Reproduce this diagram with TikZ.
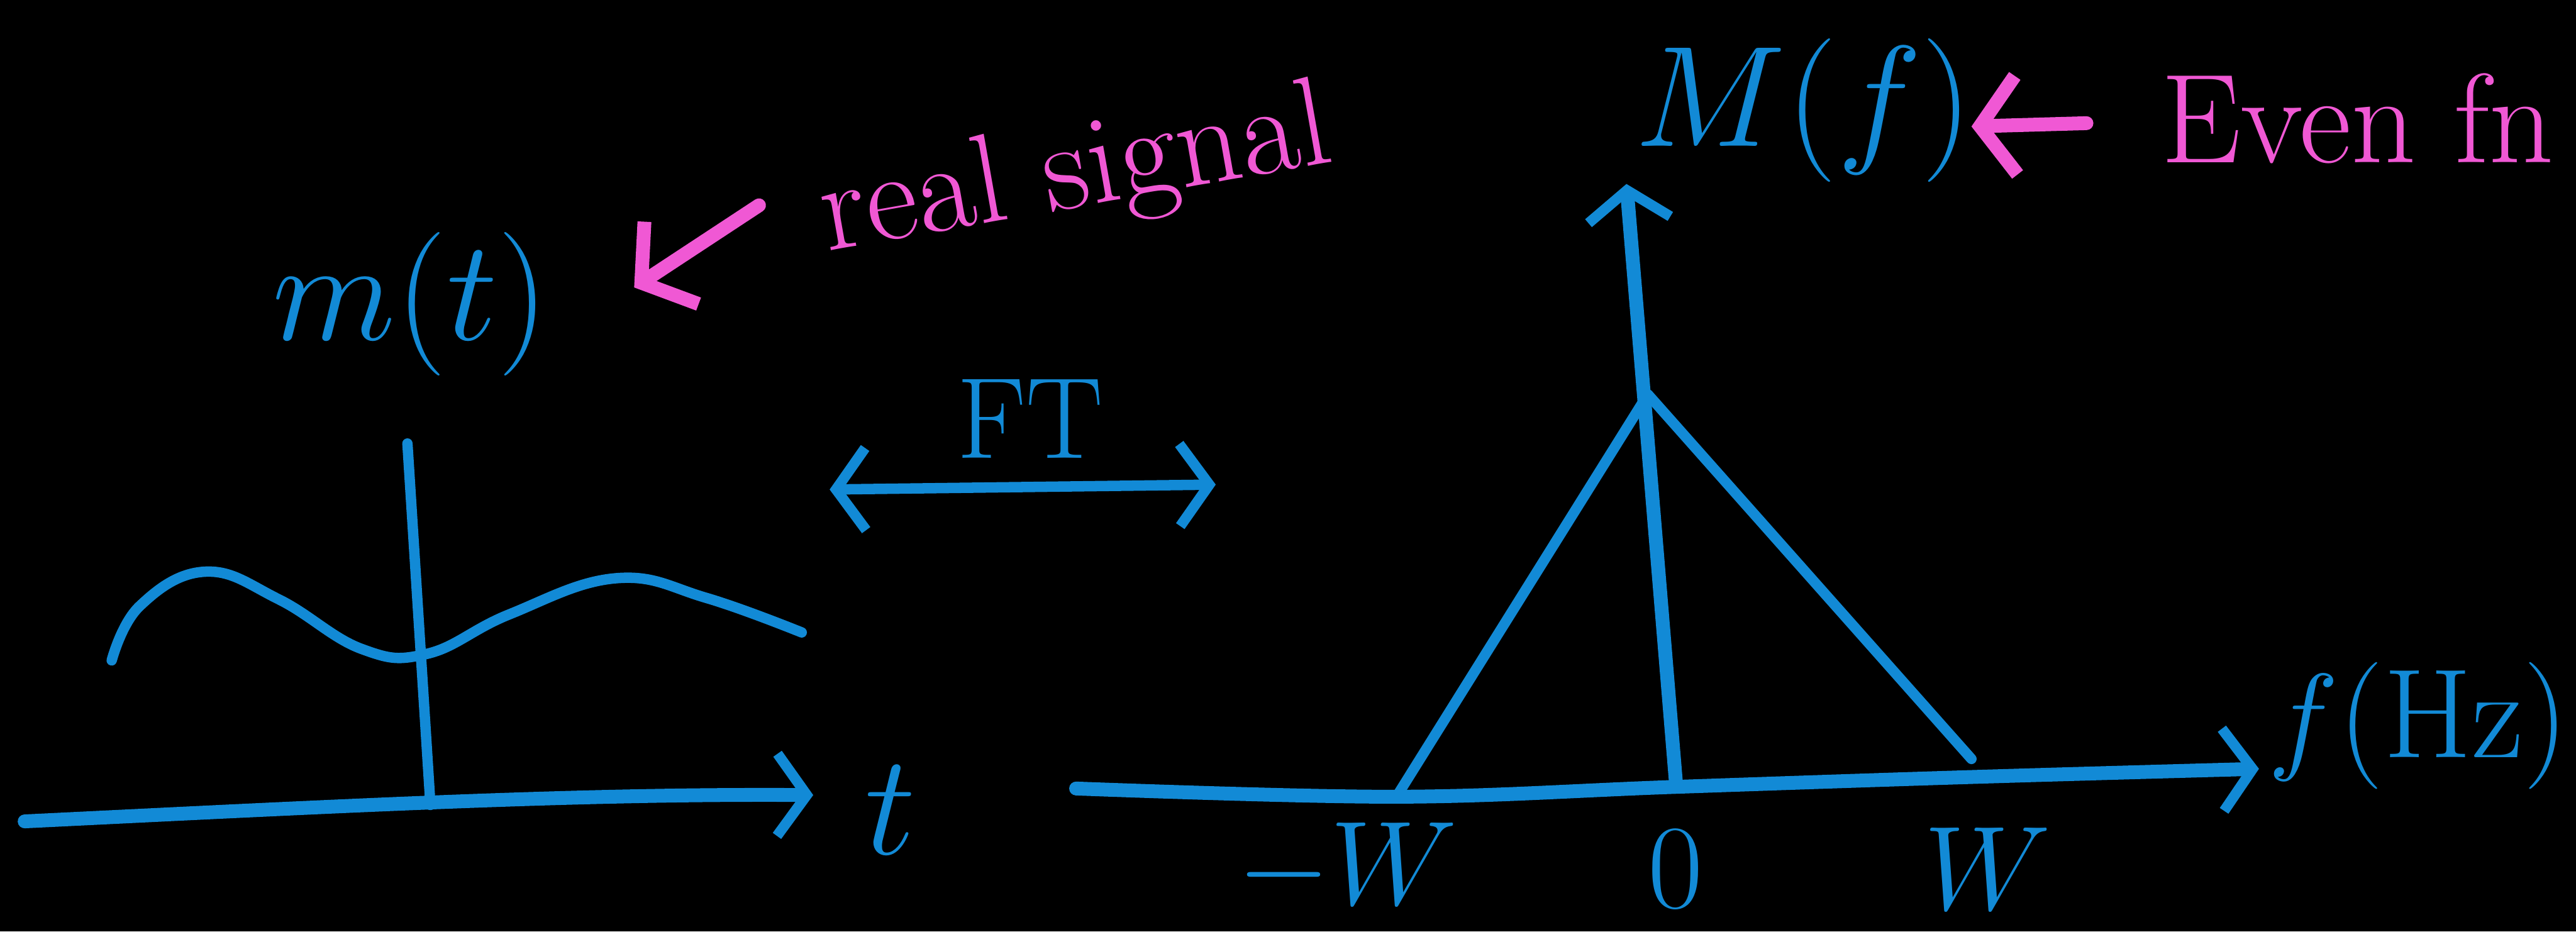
\documentclass[tikz,border=0pt]{standalone}
\usepackage{amsmath}
\usepackage{tikz}
\usetikzlibrary{arrows.meta,positioning}
\definecolor{inkblue}{RGB}{18,138,214}
\definecolor{inkpink}{RGB}{240,88,212}
\tikzset{
  ink/.style={draw=inkblue, line width=1.8pt, line cap=round, line join=round},
  axis/.style={ink, line width=2.4pt, -{Straight Barb[length=1.8mm,width=5mm,line width=1.8pt]}},
  pinkarrow/.style={draw=inkpink, line width=2.4pt, line cap=round, -{Straight Barb[length=2.2mm,width=6mm,line width=2.4pt]}},
  bluelabel/.style={text=inkblue, inner sep=1pt},
  pinklabel/.style={text=inkpink, inner sep=1pt}
}

\begin{document}
\begin{tikzpicture}
    % black board
    \fill[black] (0,0) rectangle (15.68,5.67);
    \useasboundingbox (0,0) rectangle (15.68,5.67);

    % time domain
    \coordinate (tstart) at (0.15,0.67);
    \coordinate (tend) at (4.95,0.83);
    \coordinate (mtop) at (2.48,2.97);
    \coordinate (mbot) at (2.62,0.77);
    \draw[axis] (tstart) .. controls (2.0,0.76) and (3.5,0.84) .. (tend);
    \draw[ink] (mtop) -- (mbot);
    \draw[ink] plot[smooth, tension=0.7] coordinates {(0.68,1.65) (0.85,1.98) (1.25,2.19) (1.7,2.02) (2.2,1.72) (2.6,1.69) (3.1,1.93) (3.75,2.15) (4.3,2.03) (4.88,1.82)};
    \node[bluelabel, font=\fontsize{28}{34}\selectfont] (tlabel) at (5.42,0.74) {$t$};
    \node[bluelabel, font=\fontsize{30}{36}\selectfont] (mt) at (2.5,3.82) {$m(t)$};

    % real signal note
    \coordinate (realfrom) at (4.62,4.42);
    \coordinate (realto) at (3.86,3.92);
    \draw[pinkarrow] (realfrom) -- (realto);
    \node[pinklabel, rotate=10, font=\fontsize{22}{26}\selectfont] (real) at (6.55,4.6) {real signal};

    % Fourier transform pair
    \coordinate (ftleft) at (5.05,2.69);
    \coordinate (ftright) at (7.4,2.72);
    \draw[ink, {Straight Barb[length=1.8mm,width=5mm,line width=1.8pt]}-{Straight Barb[length=1.8mm,width=5mm,line width=1.8pt]}] (ftleft) -- (ftright);
    \node[bluelabel, font=\fontsize{20}{24}\selectfont] (ft) at (6.27,3.12) {FT};

    % frequency domain
    \coordinate (fstart) at (6.55,0.87);
    \coordinate (fend) at (13.75,0.99);
    \coordinate (Mbot) at (10.2,0.92);
    \coordinate (Mtop) at (9.9,4.55);
    \draw[axis] plot[smooth, tension=0.6] coordinates {(6.55,0.87) (8.5,0.82) (10.2,0.88) (12.0,0.94) (13.75,0.99)};
    \draw[axis] (Mbot) -- (Mtop);
    \coordinate (negw) at (8.5,0.82);
    \coordinate (peak) at (10.03,3.27);
    \coordinate (posw) at (12.0,1.05);
    \draw[ink] (negw) -- (peak) -- (posw);
    \node[bluelabel, font=\fontsize{20}{24}\selectfont] (lw) at (8.2,0.38) {$-W$};
    \node[bluelabel, font=\fontsize{20}{24}\selectfont] (zero) at (10.2,0.38) {$0$};
    \node[bluelabel, font=\fontsize{20}{24}\selectfont] (rw) at (12.1,0.38) {$W$};
    \node[bluelabel, font=\fontsize{22}{26}\selectfont] (fhz) at (14.72,1.25) {$f$(Hz)};
    \node[bluelabel, font=\fontsize{24}{30}\selectfont] (Mf) at (10.98,5.0) {$M(f)$};

    % even function note
    \coordinate (evenfrom) at (12.7,4.92);
    \coordinate (evento) at (12.0,4.9);
    \draw[pinkarrow] (evenfrom) -- (evento);
    \node[pinklabel, font=\fontsize{22}{26}\selectfont] (even) at (14.35,4.95) {Even fn};
\end{tikzpicture}
\end{document}
